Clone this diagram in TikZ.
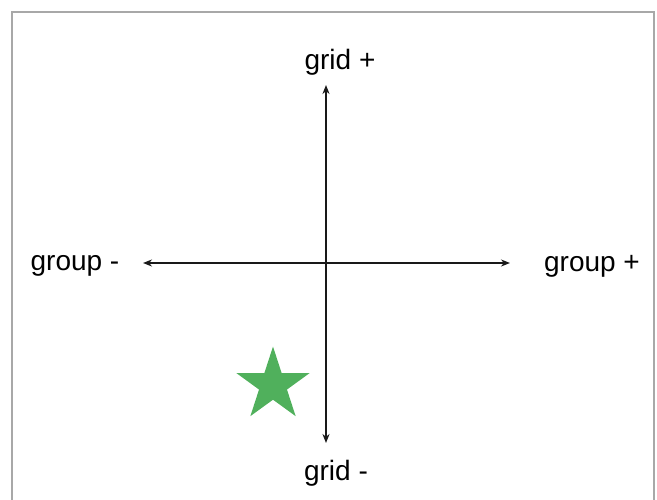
\documentclass[tikz,border=0pt]{standalone}
\usepackage{fontspec}
\setmainfont{Liberation Sans}
\usepackage{xcolor}
\definecolor{framegray}{RGB}{168, 168, 168}
\definecolor{stargreen}{RGB}{80, 176, 92}
\usetikzlibrary{shapes.geometric,arrows.meta,positioning}

\begin{document}
\begin{tikzpicture}[
  x=1pt, y=-1pt,
  lbl/.style={font=\fontsize{28}{33}\selectfont, inner sep=0pt},
  axis/.style={{Stealth[length=9pt,width=7pt]}-{Stealth[length=9pt,width=7pt]}, line width=2pt, color=black!90},
  frame/.style={draw=framegray, line width=1.5pt}
]
\useasboundingbox (0,0) rectangle (657,500);
\draw[frame] (12,500) -- (12,12) -- (654,12) -- (654,500);

% axis ends
\coordinate (top) at (326,85);
\coordinate (bottom) at (326,443);
\coordinate (left) at (143,263);
\coordinate (right) at (510,263);

\draw[axis] (top) -- (bottom);
\draw[axis] (left) -- (right);

\node[lbl] (gridplus) at (340,62) {grid +};
\node[lbl] (gridminus) at (336,473) {grid -};
\node[lbl] (groupminus) at (75,266) {group -};
\node[lbl] (groupplus) at (592,266) {group +};

\node[star, star points=5, star point ratio=2.618, minimum size=77pt, inner sep=0pt, fill=stargreen] (mark) at (273,385) {};
\end{tikzpicture}
\end{document}
